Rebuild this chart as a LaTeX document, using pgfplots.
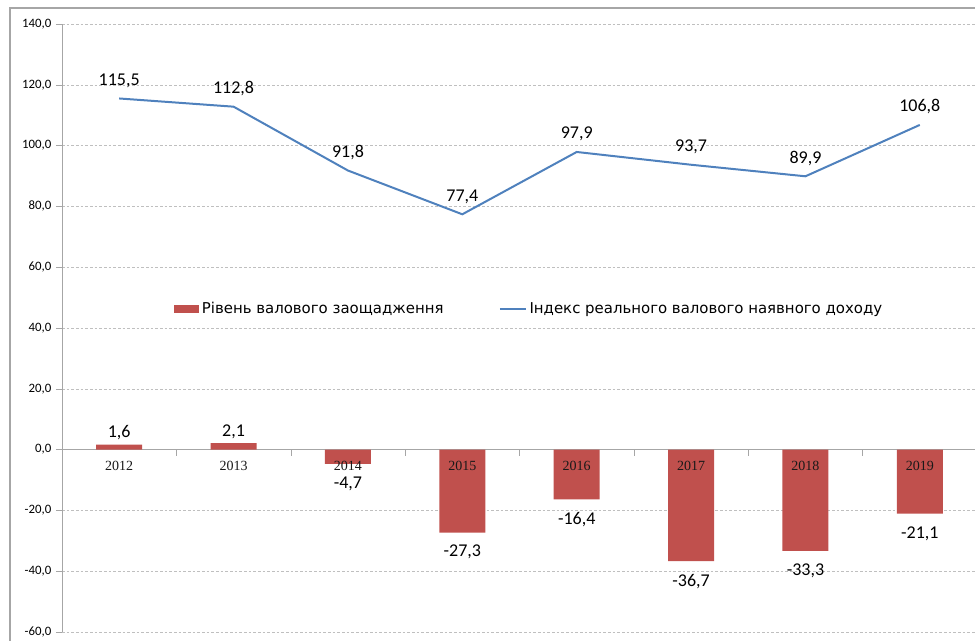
\documentclass[border=0pt]{standalone}
\usepackage{pgfplots}
\pgfplotsset{compat=1.18}
\usepackage{fontspec}
\setmainfont{Carlito}
\newfontfamily\legfont{DejaVu Sans}
\newfontfamily\yearfont{Liberation Serif}
\definecolor{barred}{HTML}{C0504D}
\definecolor{lineblue}{HTML}{4F81BD}

\begin{document}
\begin{tikzpicture}
\begin{axis}[
  at={(0pt,0pt)}, anchor=south west,
  width=686.25pt, height=456pt, scale only axis,
  xmin=-0.5, xmax=7.5, ymin=-60, ymax=140,
  axis x line=middle, axis y line=left,
  axis line style={-, gray!70},
  ytick={-60,-40,...,140},
  ymajorgrids,
  grid style={gray!50, dash pattern=on 2pt off 1.5pt},
  tick style={gray!70},
  tick align=outside,
  major tick length=4.5pt,
  yticklabel style={font=\fontsize{9.6}{11}\selectfont,
    /pgf/number format/fixed, /pgf/number format/fixed zerofill,
    /pgf/number format/precision=1, /pgf/number format/use comma,
    /pgf/number format/assume math mode=true},
  xtick={0.5,1.5,...,6.5},
  xticklabels={},
  legend style={at={(0.511,0.531)}, anchor=center, draw=none, fill=none,
    legend columns=2, font=\legfont\fontsize{11.2}{13}\selectfont,
    /tikz/every even column/.append style={column sep=39.5pt}},
  clip=false,
]
% positive bars
\addplot[ybar, bar width=34.5pt, bar shift=0pt, fill=barred, draw=none,
  nodes near coords={\pgfmathprintnumber[fixed,fixed zerofill,precision=1,use comma,assume math mode=true]{\pgfplotspointmeta}},
  every node near coord/.append style={font=\fontsize{13.5}{16}\selectfont, black, anchor=south},
  legend image code/.code={\fill[barred] (0pt,-3pt) rectangle (18.75pt,3pt);}]
coordinates {(0,1.6) (1,2.1)};
\addlegendentry{Рівень валового заощадження}
% negative bars
\addplot[ybar, bar width=34.5pt, bar shift=0pt, fill=barred, draw=none, forget plot,
  nodes near coords={\pgfmathprintnumber[fixed,fixed zerofill,precision=1,use comma,assume math mode=true]{\pgfplotspointmeta}},
  every node near coord/.append style={font=\fontsize{13.5}{16}\selectfont, black, anchor=north, yshift=-6pt}]
coordinates {(2,-4.7) (3,-27.3) (4,-16.4) (5,-36.7) (6,-33.3) (7,-21.1)};
\addplot[lineblue, line width=1.5pt, mark=none,
  nodes near coords={\pgfmathprintnumber[fixed,fixed zerofill,precision=1,use comma,assume math mode=true]{\pgfplotspointmeta}},
  every node near coord/.append style={font=\fontsize{13.5}{16}\selectfont, black, anchor=south, yshift=4pt},
  legend image code/.code={\draw[lineblue, line width=1.5pt] (0pt,0pt) -- (19.5pt,0pt);}]
coordinates {(0,115.5) (1,112.8) (2,91.8) (3,77.4) (4,97.9) (5,93.7) (6,89.9) (7,106.8)};
\addlegendentry{Індекс реального валового наявного доходу}
% category labels on the zero line, drawn over the bars
\addplot[draw=none, mark=none, forget plot, point meta=explicit symbolic,
  nodes near coords,
  every node near coord/.append style={font=\yearfont\fontsize{10.5}{12}\selectfont, black!90, anchor=north, yshift=-5pt}]
coordinates {(0,0)[2012] (1,0)[2013] (2,0)[2014] (3,0)[2015] (4,0)[2016] (5,0)[2017] (6,0)[2018] (7,0)[2019]};
\end{axis}
\draw[gray!70, line width=0.8pt] (-39pt,-20pt) -- (-39pt,468pt) -- (700pt,468pt);
\pgfresetboundingbox
\useasboundingbox (-46.5pt,-6.75pt) rectangle (684.75pt,474pt);
\end{tikzpicture}
\end{document}
